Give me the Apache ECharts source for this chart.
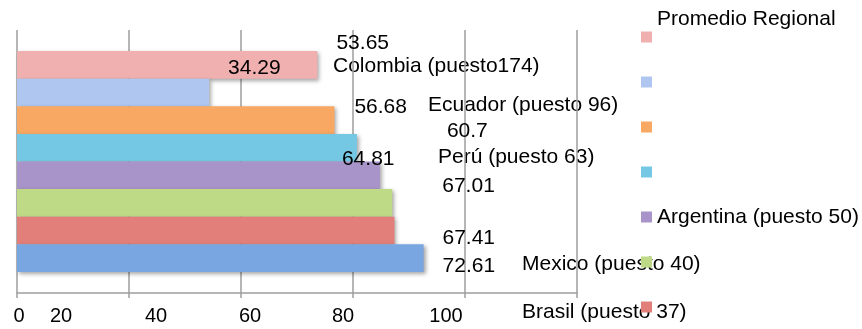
<!DOCTYPE html>
<html>
<head>
<meta charset="utf-8">
<script src="https://cdn.jsdelivr.net/npm/echarts@6/dist/echarts.min.js"></script>
<style>
  html, body { margin: 0; padding: 0; background: #fff; }
  #chart { width: 862px; height: 329px; }
</style>
</head>
<body>
<div id="chart"></div>
<script>
// Series, top to bottom
const seriesNames = ['Promedio Regional', 'Colombia', 'Ecuador', 'Perú', 'Argentina (puesto 50)', 'Mexico', 'Brasil', 'Chile'];
const seriesValues = [53.65, 34.29, 56.68, 60.7, 64.81, 67.01, 67.41, 72.61];
const legendNames = ['Promedio Regional', 'Colombia', 'Ecuador', 'Perú', 'Argentina (puesto 50)', 'Mexico', 'Brasil'];
const legendShown = ['Argentina (puesto 50)'];
const tickValues = [0, 20, 40, 60, 80, 100];
const noteTexts = ['Colombia (puesto174)', 'Ecuador (puesto 96)', 'Perú (puesto 63)', 'Mexico (puesto 40)', 'Brasil (puesto 37)'];
const headerText = 'Promedio Regional';

// Styling
const FONT = "'Liberation Sans', Arial, sans-serif";
const colors = ['#EFB0AF', '#AFC7F0', '#F8A863', '#74C8E4', '#A994C9', '#BEDA87', '#E37F7A', '#79A6E0'];
// value label placement relative to the end of each bar
const labelOffsets = [[19, -22], [19, -24], [20, -13], [90, -16], [-38, -16], [50, -17], [48, 8], [19, 8]];
// horizontal shift applied to each tick label
const tickShift = { 0: 2, 20: -68, 40: -85, 60: -103, 80: -122, 100: -131 };
// placement of the free-standing notes (left edge, vertical centre)
const notePos = [[333, 68], [428, 107], [438, 159], [522, 266], [522, 314]];

const rich = {};
tickValues.forEach(v => {
  const s = tickShift[v];
  rich['t' + v] = {
    fontSize: 20, fontFamily: FONT, color: '#000',
    padding: s < 0 ? [0, -2 * s, 0, 0] : [0, 0, 0, 2 * s]
  };
});

const series = seriesNames.map((name, i) => ({
  name: name,
  type: 'bar',
  data: [seriesValues[i]],
  barGap: '0%',
  barCategoryGap: '16%',
  itemStyle: {
    color: colors[i],
    shadowColor: 'rgba(0,0,0,0.35)',
    shadowBlur: 4,
    shadowOffsetX: 2,
    shadowOffsetY: 2
  },
  label: {
    show: true,
    position: 'right',
    distance: 0,
    offset: labelOffsets[i],
    formatter: p => String(p.value),
    fontSize: 21,
    fontFamily: FONT,
    color: '#000'
  }
}));

const chart = echarts.init(document.getElementById('chart'), null, { renderer: 'canvas' });
chart.setOption({
  animation: false,
  backgroundColor: '#fff',
  title: {
    text: headerText,
    left: 652,
    top: 4,
    padding: 5,
    textStyle: { fontSize: 21, fontWeight: 'normal', fontFamily: FONT, color: '#000' }
  },
  legend: {
    orient: 'vertical',
    left: 641,
    top: 25,
    padding: 0,
    itemGap: 21,
    itemWidth: 11,
    itemHeight: 11,
    icon: 'rect',
    data: legendNames,
    selectedMode: false,
    formatter: name => legendShown.indexOf(name) >= 0 ? name : ' ',
    textStyle: { fontSize: 21, lineHeight: 24, fontFamily: FONT, color: '#000' }
  },
  grid: { left: 17, right: 285, top: 30, bottom: 36, containLabel: false },
  xAxis: {
    type: 'value',
    min: 0,
    max: 100,
    interval: 20,
    axisLine: { show: true, lineStyle: { color: '#9E9E9E', width: 1.5 } },
    axisTick: { show: true, length: 5, lineStyle: { color: '#9E9E9E', width: 1.5 } },
    splitLine: { show: true, lineStyle: { color: '#9E9E9E', width: 1.5 } },
    axisLabel: {
      margin: 13,
      formatter: v => '{t' + v + '|' + v + '}',
      rich: rich
    }
  },
  yAxis: {
    type: 'category',
    data: [''],
    axisLine: { show: false },
    axisTick: { show: false },
    axisLabel: { show: false }
  },
  graphic: noteTexts.map((t, i) => ({
    type: 'text',
    left: notePos[i][0],
    top: notePos[i][1] - 12,
    z: 0,
    style: { text: t, fontSize: 21, fontFamily: FONT, fill: '#000' }
  })),
  series: series
});
</script>
</body>
</html>
